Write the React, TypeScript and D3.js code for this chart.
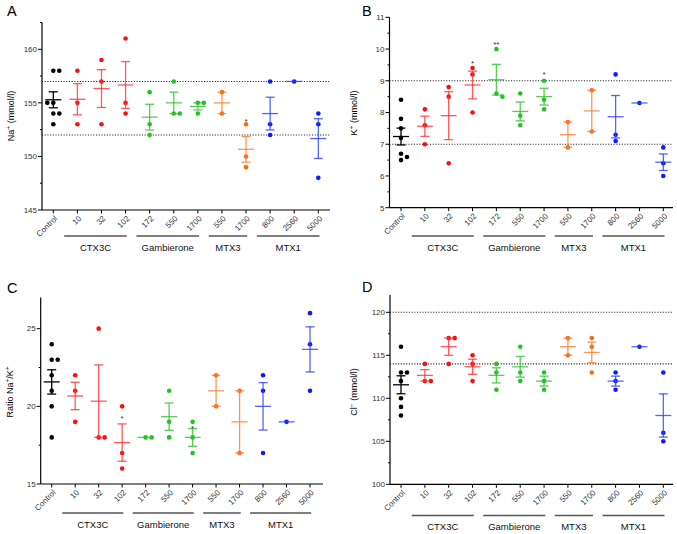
import React from "react";
import * as d3 from "d3";

const categories = ["Control", "10", "32", "102", "172", "550", "1700", "550", "1700", "800", "2560", "5000"];
const categoryGroup = ["Control", "CTX3C", "CTX3C", "CTX3C", "Gambierone", "Gambierone", "Gambierone", "MTX3", "MTX3", "MTX1", "MTX1", "MTX1"];
const groupNames = ["CTX3C", "Gambierone", "MTX3", "MTX1"];

const dotColors: Record<string, string> = {
  Control: "#000000",
  CTX3C: "#ff0d0d",
  Gambierone: "#1fc41f",
  MTX3: "#ff6a10",
  MTX1: "#0d1aff",
};
const lineColors: Record<string, string> = {
  Control: "#000000",
  CTX3C: "#ff3030",
  Gambierone: "#2fbf2f",
  MTX3: "#ff7a2a",
  MTX1: "#2a3cff",
};

const naValues = [
  [158, 158, 155, 155, 154, 154, 153],
  [158, 155, 153],
  [159, 157, 153],
  [161, 155, 154],
  [156, 153, 152],
  [157, 154, 154],
  [155, 155, 154],
  [156, 154],
  [153, 150, 149],
  [157, 153, 152],
  [157],
  [154, 153, 148],
];
const kValues = [
  [8.4, 7.8, 7.5, 7.2, 6.7, 6.6, 6.5],
  [8.1, 7.6, 7.0],
  [8.8, 8.5, 6.4],
  [9.4, 9.2, 8.0],
  [10.0, 8.6, 8.5],
  [8.6, 7.9, 7.6],
  [9.0, 8.4, 8.1],
  [7.7, 6.9],
  [8.7, 7.4],
  [9.2, 7.3, 7.1],
  [8.3],
  [6.9, 6.4, 6.0],
];
const ratioValues = [
  [24, 23, 23, 22, 21, 20, 18],
  [22, 21, 19],
  [25, 18, 18],
  [20, 17, 16],
  [18, 18],
  [21, 19, 18],
  [19, 18, 17],
  [22, 20],
  [21, 17],
  [22, 21, 17],
  [19],
  [26, 24, 21],
];
const clValues = [
  [116, 113, 113, 112, 110, 109, 108],
  [114, 112, 112],
  [117, 117, 114],
  [115, 114, 112],
  [114, 113, 111],
  [116, 113, 112],
  [113, 112, 111],
  [117, 115],
  [117, 116, 113],
  [113, 112, 111],
  [116],
  [113, 106, 105],
];

const naTicks = [145, 150, 155, 160];
const kTicks = [5, 6, 7, 8, 9, 10, 11];
const ratioTicks = [15, 20, 25];
const clTicks = [100, 105, 110, 115, 120];

const naRefs = [152, 157];
const kRefs = [7, 9];
const ratioRefs: number[] = [];
const clRefs = [114, 120];

const naStars = [{ cat: 8, value: 153.45, text: "*" }];
const kStars = [
  { cat: 3, value: 9.62, text: "*" },
  { cat: 4, value: 10.22, text: "**" },
  { cat: 6, value: 9.27, text: "*" },
];
const ratioStars = [
  { cat: 3, value: 19.35, text: "*" },
  { cat: 6, value: 18.72, text: "*" },
];
const clStars: { cat: number; value: number; text: string }[] = [];

const FONT = "'Liberation Sans', Arial, Helvetica, sans-serif";

type Panel = {
  letter: string;
  values: number[][];
  domain: [number, number];
  ticks: number[];
  minorStep: number;
  refs: number[];
  stars: { cat: number; value: number; text: string }[];
  label: React.ReactNode;
  axisX: number;
  xEnd: number;
  yBottom: number;
  yTop: number;
  xFirst: number;
  xLast: number;
  letterX: number;
  letterY: number;
  labelX: number;
  labelY: number;
  groupLineY: number;
};

const sup = (s: string) => (
  <tspan baselineShift="super" fontSize="6.5">
    {s}
  </tspan>
);

const panels: Panel[] = [
  {
    letter: "A",
    values: naValues,
    domain: [145, 162.5],
    ticks: naTicks,
    minorStep: 2.5,
    refs: naRefs,
    stars: naStars,
    label: (
      <>
        Na{sup("+")} (mmol/l)
      </>
    ),
    axisX: 42,
    xEnd: 330,
    yBottom: 210,
    yTop: 22.5,
    xFirst: 53.3,
    xLast: 318.3,
    letterX: 7,
    letterY: 16,
    labelX: 14,
    labelY: 116,
    groupLineY: 236,
  },
  {
    letter: "B",
    values: kValues,
    domain: [5, 11],
    ticks: kTicks,
    minorStep: 0.5,
    refs: kRefs,
    stars: kStars,
    label: (
      <>
        K{sup("+")} (mmol/l)
      </>
    ),
    axisX: 389.5,
    xEnd: 673,
    yBottom: 207.7,
    yTop: 17.3,
    xFirst: 401,
    xLast: 663.3,
    letterX: 362,
    letterY: 16,
    labelX: 357,
    labelY: 113,
    groupLineY: 236,
  },
  {
    letter: "C",
    values: ratioValues,
    domain: [15, 27],
    ticks: ratioTicks,
    minorStep: 2.5,
    refs: ratioRefs,
    stars: ratioStars,
    label: (
      <>
        Ratio Na{sup("+")}/K{sup("+")}
      </>
    ),
    axisX: 40.7,
    xEnd: 323,
    yBottom: 484,
    yTop: 297.6,
    xFirst: 51.7,
    xLast: 310,
    letterX: 7,
    letterY: 293,
    labelX: 13,
    labelY: 392,
    groupLineY: 513,
  },
  {
    letter: "D",
    values: clValues,
    domain: [100, 122],
    ticks: clTicks,
    minorStep: 2.5,
    refs: clRefs,
    stars: clStars,
    label: (
      <>
        Cl{sup("−")} (mmol/l)
      </>
    ),
    axisX: 390,
    xEnd: 673,
    yBottom: 484.3,
    yTop: 295.1,
    xFirst: 401,
    xLast: 663.3,
    letterX: 362,
    letterY: 292,
    labelX: 357,
    labelY: 392,
    groupLineY: 515.5,
  },
];

const R = 2.3;
const SPACING = 6;

function swarm(vals: number[], y: (v: number) => number) {
  const sorted = [...vals].sort((a, b) => b - a);
  const placed: { o: number; y: number }[] = [];
  let collisions = 0;
  for (const v of sorted) {
    const py = y(v);
    const collide = (o: number) =>
      placed.some((p) => Math.abs(p.o - o) < 2 * R + 0.3 && Math.abs(p.y - py) < 2 * R + 0.3);
    let off = 0;
    if (collide(0)) {
      collisions++;
      const s = collisions % 2 === 1 ? 1 : -1;
      const cands = [s, -s, 2 * s, -2 * s, 3 * s, -3 * s].map((k) => k * SPACING);
      off = cands.find((o) => !collide(o)) ?? 0;
    }
    placed.push({ o: off, y: py });
  }
  return placed;
}

function PanelView({ p }: { p: Panel }) {
  const y = d3.scaleLinear().domain(p.domain).range([p.yBottom, p.yTop]);
  const idx = categories.map((_, i) => String(i));
  const x = d3.scalePoint<string>().domain(idx).range([p.xFirst, p.xLast]);
  const step = x.step();
  const minorTicks = d3.range(p.domain[0], p.domain[1] + 1e-9, p.minorStep).filter(
    (v) => !p.ticks.some((t) => Math.abs(t - v) < 1e-9)
  );

  const groupsInfo = groupNames.map((g) => {
    const members = categories.map((_, i) => i).filter((i) => categoryGroup[i] === g);
    const x0 = (x(String(members[0])) as number) - 0.55 * step;
    const x1 = (x(String(members[members.length - 1])) as number) + 0.05 * step;
    return { g, x0, x1 };
  });

  return (
    <g>
      <text x={p.letterX} y={p.letterY} fontSize={14.5} fontFamily={FONT} fill="#000">
        {p.letter}
      </text>
      {p.refs.map((r) => (
        <line
          key={"ref" + r}
          x1={p.axisX}
          x2={p.xEnd}
          y1={y(r)}
          y2={y(r)}
          stroke="#222"
          strokeWidth={1.1}
          strokeDasharray="1.1,1.6"
        />
      ))}
      <line x1={p.axisX} x2={p.axisX} y1={p.yTop} y2={p.yBottom} stroke="#000" strokeWidth={1.2} />
      {p.ticks.map((t) => (
        <g key={"t" + t}>
          <line x1={p.axisX - 4} x2={p.axisX} y1={y(t)} y2={y(t)} stroke="#000" strokeWidth={1} />
          <text
            x={p.axisX - 5}
            y={y(t)}
            dy="0.35em"
            textAnchor="end"
            fontSize={8}
            fontFamily={FONT}
            fill="#333"
          >
            {t}
          </text>
        </g>
      ))}
      {minorTicks.map((t) => (
        <line key={"m" + t} x1={p.axisX - 2} x2={p.axisX} y1={y(t)} y2={y(t)} stroke="#000" strokeWidth={1} />
      ))}
      <text
        transform={`translate(${p.labelX},${p.labelY}) rotate(-90)`}
        textAnchor="middle"
        fontSize={9}
        fontFamily={FONT}
        fill="#000"
      >
        {p.label}
      </text>
      <line x1={p.axisX} x2={p.xEnd} y1={p.yBottom} y2={p.yBottom} stroke="#000" strokeWidth={1.2} />
      {categories.map((c, i) => {
        const cx = x(String(i)) as number;
        return (
          <g key={"xt" + i}>
            <line x1={cx} x2={cx} y1={p.yBottom} y2={p.yBottom + 3.5} stroke="#000" strokeWidth={1} />
            <text
              transform={`translate(${cx + 2.5},${p.yBottom + 7}) rotate(-45)`}
              textAnchor="end"
              dy="0.35em"
              fontSize={8}
              fontFamily={FONT}
              fill="#333"
            >
              {c}
            </text>
          </g>
        );
      })}
      {groupsInfo.map((gi) => (
        <g key={"g" + gi.g}>
          <line x1={gi.x0} x2={gi.x1} y1={p.groupLineY} y2={p.groupLineY} stroke="#555" strokeWidth={1.6} />
          <text
            x={(gi.x0 + gi.x1) / 2}
            y={p.groupLineY + 14.5}
            textAnchor="middle"
            fontSize={9.5}
            fontFamily={FONT}
            fill="#111"
          >
            {gi.g}
          </text>
        </g>
      ))}
      {p.values.map((vals, i) => {
        const cx = x(String(i)) as number;
        const g = categoryGroup[i];
        const pts = swarm(vals, y);
        return (
          <g key={"d" + i}>
            {pts.map((pt, k) => (
              <circle key={k} cx={cx + pt.o} cy={pt.y} r={R} fill={dotColors[g]} />
            ))}
          </g>
        );
      })}
      {p.values.map((vals, i) => {
        const cx = x(String(i)) as number;
        const g = categoryGroup[i];
        const m = d3.mean(vals) as number;
        const sem = vals.length > 1 ? (d3.deviation(vals) as number) / Math.sqrt(vals.length) : 0;
        const col = lineColors[g];
        const op = g === "Control" ? 1 : 0.8;
        return (
          <g key={"m" + i} stroke={col} strokeWidth={1.3} strokeOpacity={op}>
            <line x1={cx - 8} x2={cx + 8} y1={y(m)} y2={y(m)} />
            {vals.length > 1 && sem > 0 && (
              <>
                <line x1={cx} x2={cx} y1={y(m - sem)} y2={y(m + sem)} />
                <line x1={cx - 4.5} x2={cx + 4.5} y1={y(m + sem)} y2={y(m + sem)} />
                <line x1={cx - 4.5} x2={cx + 4.5} y1={y(m - sem)} y2={y(m - sem)} />
              </>
            )}
          </g>
        );
      })}
      {p.stars.map((s, k) => (
        <text
          key={"s" + k}
          x={x(String(s.cat)) as number}
          y={y(s.value) + 4.5}
          textAnchor="middle"
          fontSize={8}
          fontFamily={FONT}
          fill="#333"
        >
          {s.text}
        </text>
      ))}
    </g>
  );
}

export default function App() {
  return (
    <svg
      width={677}
      height={534}
      viewBox="0 0 677 534"
      style={{ position: "absolute", left: 0, top: 0, background: "#fff" }}
    >
      <rect x={0} y={0} width={677} height={534} fill="#fff" />
      {panels.map((p) => (
        <PanelView key={p.letter} p={p} />
      ))}
    </svg>
  );
}
